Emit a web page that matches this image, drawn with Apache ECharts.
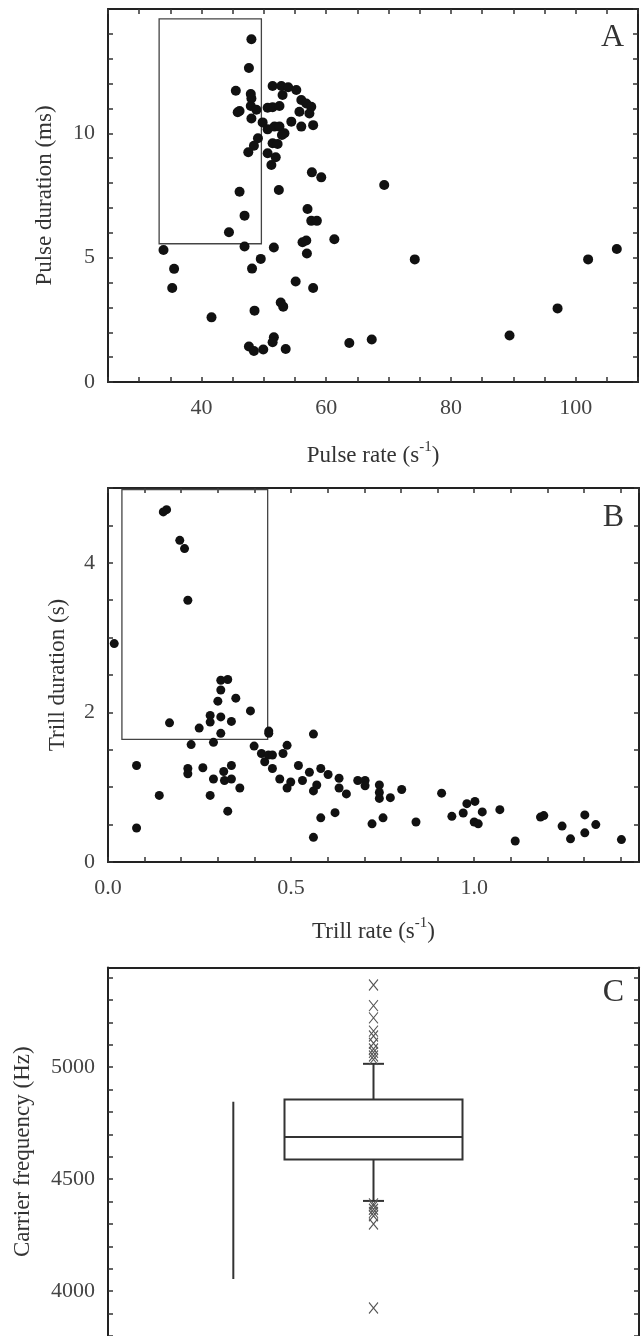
<!DOCTYPE html>
<html>
<head>
<meta charset="utf-8">
<script src="https://cdn.jsdelivr.net/npm/echarts@6/dist/echarts.min.js"></script>
<style>
html,body{margin:0;padding:0;background:#fff;}
#chart{width:641px;height:1336px;}
</style>
</head>
<body>
<div id="chart"></div>
<script>
// ---------- Panel A: pulse rate (s^-1) vs pulse duration (ms) ----------
const pulseRate = [48.0,47.6,45.5,47.9,48.0,46.1,45.8,47.9,48.8,48.0,50.6,51.4,52.5,51.4,52.8,53.9,55.2,53.0,56.0,56.8,57.6,55.7,57.3,54.4,56.0,57.9,49.8,50.6,51.7,52.5,53.3,52.9,51.4,52.2,49.05,48.4,47.5,50.6,51.9,51.2,57.7,59.2,69.3,52.4,46.1,57.0,46.9,57.6,58.5,44.4,61.3,56.2,56.8,46.9,51.6,33.9,
  106.6,56.9,49.5,74.2,102.0,35.6,48.1,55.1,35.3,57.9,52.7,53.1,48.5,97.1,41.6,89.4,51.6,51.4,63.7,67.3,47.6,48.4,49.9,53.5];
const pulseDuration = [13.78,12.63,11.71,11.58,11.4,10.9,10.85,11.1,10.95,10.6,11.03,11.05,11.1,11.9,11.9,11.85,11.74,11.54,11.34,11.2,11.07,10.87,10.8,10.47,10.27,10.33,10.44,10.16,10.27,10.27,10.0,9.93,9.6,9.57,9.8,9.5,9.24,9.2,9.04,8.73,8.43,8.23,7.92,7.72,7.65,6.96,6.69,6.48,6.48,6.02,5.74,5.62,5.69,5.45,5.41,5.31,
  5.35,5.17,4.95,4.93,4.93,4.55,4.56,4.04,3.78,3.78,3.2,3.03,2.87,2.96,2.6,1.87,1.8,1.6,1.57,1.71,1.43,1.25,1.31,1.33];
const boxA = [[33.2, 5.56], [49.6, 14.6]];   // outlined region corners

// ---------- Panel B: trill rate (s^-1) vs trill duration (s) ----------
const trillRate = [0.017,0.151,0.160,0.196,0.209,0.218,0.168,0.078,0.078,0.140,0.218,0.218,0.227,0.249,0.259,0.279,0.279,0.279,0.288,0.288,0.300,0.308,0.308,0.308,0.308,0.316,0.318,0.327,0.327,0.337,0.337,0.337,0.349,0.360,0.389,0.399,0.419,0.428,0.438,0.449,0.439,0.439,0.449,0.469,0.478,0.489,0.489,0.499,0.520,0.531,0.550,0.561,0.561,0.561,0.570,0.581,0.581,0.601,0.620,0.631,0.631,0.651,0.682,0.702,0.702,0.721,0.741,0.741,0.741,0.751,0.771,0.802,0.841,0.911,0.939,0.970,0.980,1.002,1.000,1.011,1.022,1.070,1.112,1.181,1.190,1.240,1.263,1.302,1.302,1.332,1.402];
const trillDuration = [2.92,4.68,4.71,4.30,4.19,3.50,1.86,1.29,0.455,0.89,1.25,1.18,1.57,1.79,1.26,1.96,1.87,0.89,1.60,1.11,2.15,2.43,2.30,1.94,1.72,1.21,1.09,2.44,0.68,1.88,1.29,1.11,2.19,0.99,2.02,1.55,1.45,1.34,1.43,1.43,1.75,1.72,1.25,1.11,1.45,1.56,0.99,1.07,1.29,1.09,1.20,1.71,0.95,0.33,1.03,1.25,0.59,1.17,0.66,1.12,0.99,0.91,1.09,1.09,1.02,0.51,1.03,0.93,0.85,0.59,0.86,0.97,0.535,0.92,0.61,0.655,0.78,0.81,0.535,0.51,0.67,0.70,0.28,0.60,0.62,0.48,0.31,0.63,0.39,0.50,0.30];
const boxB = [[0.038, 1.64], [0.436, 4.98]];

// ---------- Panel C: carrier frequency (Hz) ----------
const groupPos = [0.236, 0.5];                         // position on hidden x axis
const rangeLine = [4055, 4846];                         // vertical range bar
const boxStats = [4403, 4588, 4688, 4856, 5015];        // low whisker, Q1, median, Q3, high whisker
const outliers = [5367,5275,5220,5161,5139,5107,5081,5066,5050,5035,4390,4381,4366,4352,4337,4300,3925];

const SERIF = "'Liberation Serif', 'DejaVu Serif', serif";
const zip = (a, b) => a.map((v, i) => [v, b[i]]);

const tickStyle = { show: true, inside: true, length: 5, lineStyle: { color: '#333', width: 1.5 } };
const lineStyle = { show: true, onZero: false, lineStyle: { color: '#222', width: 2 } };
const labelBase = { fontFamily: SERIF, fontSize: 22, color: '#444' };
const nameStyle = {
  fontFamily: SERIF, fontSize: 23, color: '#333', lineHeight: 32,
  rich: { sup: { fontFamily: SERIF, fontSize: 15, color: '#333', verticalAlign: 'top', lineHeight: 15 } }
};
const letterStyle = { fontFamily: SERIF, fontSize: 32, fontWeight: 'normal', color: '#333' };

function valAxis(opts) {
  return Object.assign({
    type: 'value', splitLine: { show: false }, axisLine: lineStyle, axisTick: tickStyle,
    nameLocation: 'middle'
  }, opts);
}

const option = {
  animation: false,
  backgroundColor: '#fff',
  title: [
    { text: 'A', right: 17, top: 22, padding: 0, textStyle: letterStyle },
    { text: 'B', right: 17, top: 502, padding: 0, textStyle: letterStyle },
    { text: 'C', right: 17, top: 977, padding: 0, textStyle: letterStyle }
  ],
  grid: [
    { left: 108, top: 9, width: 531, height: 373 },
    { left: 108, top: 488, width: 531, height: 374 },
    { left: 108, top: 967.5, width: 531, height: 373 }
  ],
  xAxis: [
    valAxis({ gridIndex: 0, min: 25, max: 110, interval: 5,
      name: 'Pulse rate (s{sup|-1})', nameGap: 58, nameTextStyle: nameStyle,
      axisLabel: Object.assign({ margin: 15, formatter: v => (v % 20 === 0 ? String(v) : '') }, labelBase) }),
    valAxis({ gridIndex: 0, position: 'top', min: 25, max: 110, interval: 5, axisLabel: { show: false } }),
    valAxis({ gridIndex: 1, min: 0, max: 1.45, interval: 0.1,
      name: 'Trill rate (s{sup|-1})', nameGap: 54, nameTextStyle: nameStyle,
      axisLabel: Object.assign({ margin: 15, showMaxLabel: false,
        formatter: v => (Math.abs(v * 2 - Math.round(v * 2)) < 1e-6 ? v.toFixed(1) : '') }, labelBase) }),
    valAxis({ gridIndex: 1, position: 'top', min: 0, max: 1.45, interval: 0.1, axisLabel: { show: false } }),
    valAxis({ gridIndex: 2, min: 0, max: 1, axisLine: { show: false }, axisLabel: { show: false }, axisTick: { show: false } }),
    valAxis({ gridIndex: 2, position: 'top', min: 0, max: 1, axisLabel: { show: false }, axisTick: { show: false } })
  ],
  yAxis: [
    valAxis({ gridIndex: 0, min: 0, max: 15, interval: 1,
      name: 'Pulse duration (ms)', nameGap: 52, nameTextStyle: { fontFamily: SERIF, fontSize: 23, color: '#333' },
      axisLabel: Object.assign({ margin: 13, showMaxLabel: false, formatter: v => (v % 5 === 0 && v < 15 ? String(v) : '') }, labelBase) }),
    valAxis({ gridIndex: 0, position: 'right', min: 0, max: 15, interval: 1, axisLabel: { show: false } }),
    valAxis({ gridIndex: 1, min: 0, max: 5, interval: 0.5,
      name: 'Trill duration (s)', nameGap: 39, nameTextStyle: { fontFamily: SERIF, fontSize: 23, color: '#333' },
      axisLabel: Object.assign({ margin: 13, formatter: v => (v % 2 === 0 ? String(v) : '') }, labelBase) }),
    valAxis({ gridIndex: 1, position: 'right', min: 0, max: 5, interval: 0.5, axisLabel: { show: false } }),
    valAxis({ gridIndex: 2, min: 3800, max: 5445, interval: 100,
      name: 'Carrier frequency (Hz)', nameGap: 74, nameTextStyle: { fontFamily: SERIF, fontSize: 23, color: '#333' },
      axisLabel: Object.assign({ margin: 13, showMaxLabel: false, formatter: v => (v % 500 === 0 ? String(v) : '') }, labelBase) }),
    valAxis({ gridIndex: 2, position: 'right', min: 3800, max: 5445, interval: 100, axisLabel: { show: false } })
  ],
  series: [
    {
      type: 'scatter', xAxisIndex: 0, yAxisIndex: 0, data: zip(pulseRate, pulseDuration),
      symbolSize: 10, itemStyle: { color: '#111', opacity: 1 }, silent: true,
      markArea: { silent: true, itemStyle: { color: 'rgba(0,0,0,0)', borderColor: '#444', borderWidth: 1.3 },
        data: [[{ coord: boxA[0] }, { coord: boxA[1] }]] }
    },
    {
      type: 'scatter', xAxisIndex: 2, yAxisIndex: 2, data: zip(trillRate, trillDuration),
      symbolSize: 9, itemStyle: { color: '#111', opacity: 1 }, silent: true,
      markArea: { silent: true, itemStyle: { color: 'rgba(0,0,0,0)', borderColor: '#444', borderWidth: 1.3 },
        data: [[{ coord: boxB[0] }, { coord: boxB[1] }]] }
    },
    {
      type: 'line', xAxisIndex: 4, yAxisIndex: 4, symbol: 'none', silent: true,
      data: rangeLine.map(v => [groupPos[0], v]),
      lineStyle: { color: '#333', width: 2 }
    },
    {
      type: 'custom', xAxisIndex: 4, yAxisIndex: 4, silent: true,
      data: [[groupPos[1]].concat(boxStats)],
      renderItem: function (params, api) {
        const x = api.value(0);
        const pLo = api.coord([x, api.value(1)]);
        const pQ1 = api.coord([x, api.value(2)]);
        const pMed = api.coord([x, api.value(3)]);
        const pQ3 = api.coord([x, api.value(4)]);
        const pHi = api.coord([x, api.value(5)]);
        const halfW = 89, capW = 10.5, cx = pMed[0];
        const st = { stroke: '#333', lineWidth: 2, fill: 'none' };
        return { type: 'group', children: [
          { type: 'rect', shape: { x: cx - halfW, y: pQ3[1], width: 2 * halfW, height: pQ1[1] - pQ3[1] }, style: st },
          { type: 'line', shape: { x1: cx - halfW, y1: pMed[1], x2: cx + halfW, y2: pMed[1] }, style: st },
          { type: 'line', shape: { x1: cx, y1: pQ3[1], x2: cx, y2: pHi[1] }, style: st },
          { type: 'line', shape: { x1: cx, y1: pQ1[1], x2: cx, y2: pLo[1] }, style: st },
          { type: 'line', shape: { x1: cx - capW, y1: pHi[1], x2: cx + capW, y2: pHi[1] }, style: st },
          { type: 'line', shape: { x1: cx - capW, y1: pLo[1], x2: cx + capW, y2: pLo[1] }, style: st }
        ] };
      }
    },
    {
      type: 'scatter', xAxisIndex: 4, yAxisIndex: 4, silent: true,
      data: outliers.map(v => [groupPos[1], v]),
      symbol: 'path://M0,0L10,12M10,0L0,12', symbolSize: [9, 11],
      itemStyle: { color: 'rgba(0,0,0,0)', borderColor: '#555', borderWidth: 1.1, opacity: 1 }
    }
  ]
};

const chart = echarts.init(document.getElementById('chart'), null, { renderer: 'canvas' });
chart.setOption(option);
</script>
</body>
</html>
